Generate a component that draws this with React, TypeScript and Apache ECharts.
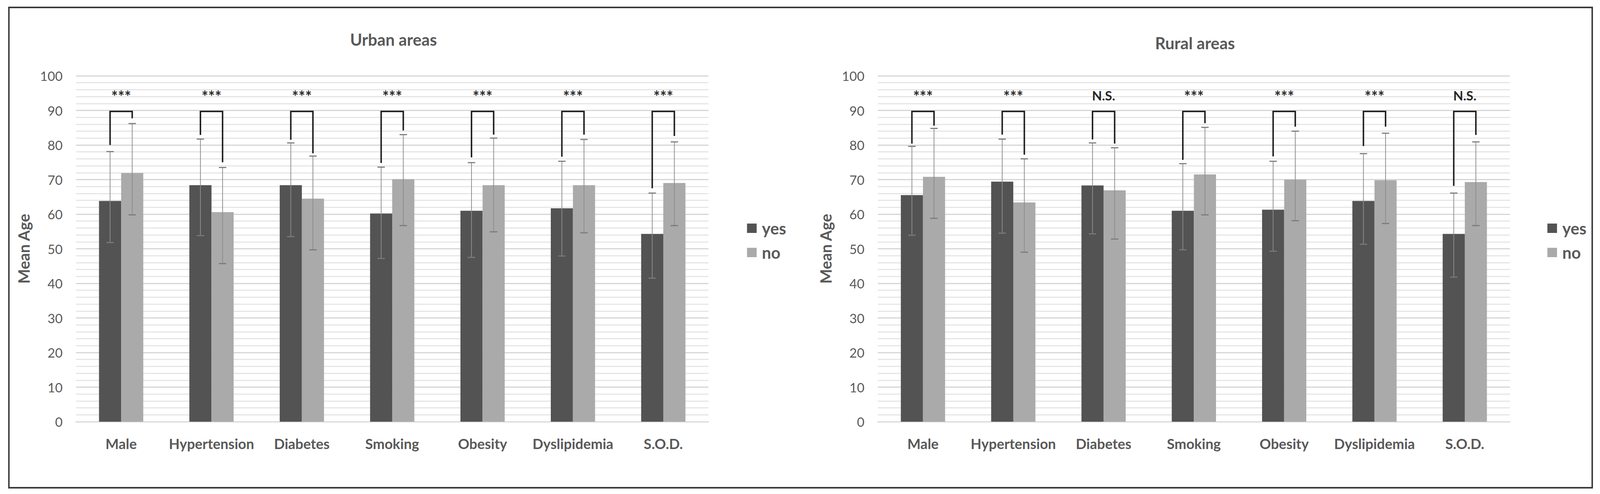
import React, { useEffect, useRef } from "react";
import * as echarts from "echarts";

const categories = ["Male", "Hypertension", "Diabetes", "Smoking", "Obesity", "Dyslipidemia", "S.O.D."];
const seriesNames = ["yes", "no"];

// Urban areas
const urbanYes = [63.8, 68.4, 68.4, 60.2, 61.0, 61.7, 54.3];
const urbanNo = [71.9, 60.6, 64.5, 70.1, 68.4, 68.4, 69.0];
const urbanYesLow = [51.8, 53.8, 53.5, 47.2, 47.5, 47.9, 41.5];
const urbanYesHigh = [78.1, 81.7, 80.6, 73.6, 74.9, 75.3, 66.1];
const urbanNoLow = [59.8, 45.7, 49.7, 56.7, 54.9, 54.6, 56.7];
const urbanNoHigh = [86.2, 73.5, 76.8, 83.0, 82.0, 81.6, 80.9];
const urbanBracketLeft = [80.0, 82.9, 81.5, 74.8, 76.4, 76.6, 67.5];
const urbanBracketRight = [87.7, 75.0, 77.6, 84.2, 83.0, 83.0, 82.6];
const urbanSig = ["***", "***", "***", "***", "***", "***", "***"];

// Rural areas
const ruralYes = [65.5, 69.4, 68.3, 61.0, 61.3, 63.8, 54.3];
const ruralNo = [70.8, 63.4, 66.9, 71.5, 70.0, 69.8, 69.3];
const ruralYesLow = [53.9, 54.5, 54.3, 49.7, 49.3, 51.3, 41.8];
const ruralYesHigh = [79.6, 81.7, 80.6, 74.6, 75.3, 77.5, 66.1];
const ruralNoLow = [58.8, 49.0, 52.8, 59.8, 58.1, 57.3, 56.7];
const ruralNoHigh = [84.8, 76.0, 79.2, 85.1, 84.0, 83.4, 80.9];
const ruralBracketLeft = [80.4, 83.0, 81.6, 75.7, 76.7, 79.7, 68.2];
const ruralBracketRight = [85.6, 77.2, 80.4, 86.3, 85.3, 85.3, 82.9];
const ruralSig = ["***", "***", "N.S.", "***", "***", "***", "N.S."];

const bracketTop = 89.7;
const sigLabelY = 94.3;
const yMin = 0;
const yMax = 100;
const yInterval = 10;

const FONT = "Lato";
const TEXT_GRAY = "#595959";
const YES_COLOR = "#535353";
const NO_COLOR = "#aaaaaa";
const GAP_RATIO = 0.51;

// design canvas size (layout below is expressed in these units and scaled to the real container)
const DW = 4318;
const DH = 1264;

function buildOption(W: number, H: number) {
  const kx = W / DW;
  const ky = H / DH;
  const k = Math.min(kx, ky);
  const X = (v: number) => v * kx;
  const Y = (v: number) => v * ky;
  const F = (v: number) => v * k;

  function errorBarRender(sign: number) {
    return (params: any, api: any) => {
      const cat = api.value(0);
      const low = api.value(1);
      const high = api.value(2);
      const band = api.size([1, 0])[0];
      const off = (sign * band * (1 - GAP_RATIO)) / 4;
      const pLow = api.coord([cat, low]);
      const pHigh = api.coord([cat, high]);
      const x = pLow[0] + off;
      const cap = X(10);
      return {
        type: "group",
        children: [
          { type: "line", shape: { x1: x, y1: pHigh[1], x2: x, y2: pLow[1] }, style: { stroke: "#8c8c8c", lineWidth: F(2) } },
          { type: "line", shape: { x1: x - cap, y1: pHigh[1], x2: x + cap, y2: pHigh[1] }, style: { stroke: "#7a7a7a", lineWidth: F(3) } },
          { type: "line", shape: { x1: x - cap, y1: pLow[1], x2: x + cap, y2: pLow[1] }, style: { stroke: "#7a7a7a", lineWidth: F(3) } },
        ],
      };
    };
  }

  function bracketRender(labels: string[]) {
    return (params: any, api: any) => {
      const cat = api.value(0);
      const left = api.value(1);
      const right = api.value(2);
      const band = api.size([1, 0])[0];
      const off = (band * (1 - GAP_RATIO)) / 4;
      const pc = api.coord([cat, bracketTop]);
      const pl = api.coord([cat, left]);
      const pr = api.coord([cat, right]);
      const pt = api.coord([cat, sigLabelY]);
      const xl = pc[0] - off;
      const xr = pc[0] + off;
      const label = labels[params.dataIndex];
      const isStars = label.indexOf("*") >= 0;
      return {
        type: "group",
        children: [
          {
            type: "polyline",
            shape: { points: [[xl, pl[1]], [xl, pc[1]], [xr, pc[1]], [xr, pr[1]]] },
            style: { stroke: "#1e1e1e", lineWidth: F(4), fill: null },
          },
          {
            type: "text",
            x: pc[0],
            y: pt[1] + (isStars ? Y(2) : 0),
            style: {
              text: label,
              align: "center",
              verticalAlign: "middle",
              textAlign: "center",
              textVerticalAlign: "middle",
              fontSize: F(isStars ? 42 : 35),
              fontWeight: "bold",
              fontFamily: FONT,
              fill: "#262626",
            },
          },
        ],
      };
    };
  }

  const makeXAxis = (gridIndex: number) => ({
    type: "category",
    gridIndex,
    data: categories,
    axisTick: { show: false },
    axisLine: { show: true, lineStyle: { color: "#d9d9d9", width: F(3) } },
    axisLabel: { interval: 0, margin: Y(38), fontSize: F(38), fontWeight: "bold", color: TEXT_GRAY, fontFamily: FONT },
  });

  const makeYAxis = (gridIndex: number) => ({
    type: "value",
    gridIndex,
    min: yMin,
    max: yMax,
    interval: yInterval,
    name: "Mean Age",
    nameLocation: "middle",
    nameGap: X(120),
    nameTextStyle: { fontSize: F(42), fontWeight: "bold", color: TEXT_GRAY, fontFamily: FONT },
    axisLine: { show: false },
    axisTick: { show: false },
    axisLabel: { margin: X(36), fontSize: F(35), color: TEXT_GRAY, fontFamily: FONT },
    splitLine: { show: true, lineStyle: { color: "#d6d6d6", width: F(3) } },
    minorTick: { show: false, splitNumber: 5 },
    minorSplitLine: { show: true, lineStyle: { color: "#e6e6e6", width: F(3) } },
  });

  const barSeries = (name: string, data: number[], axisIndex: number, color: string) => ({
    name,
    type: "bar",
    xAxisIndex: axisIndex,
    yAxisIndex: axisIndex,
    data,
    barGap: "0%",
    barCategoryGap: GAP_RATIO * 100 + "%",
    itemStyle: { color },
    z: 2,
  });

  const errSeries = (low: number[], high: number[], axisIndex: number, sign: number) => ({
    type: "custom",
    xAxisIndex: axisIndex,
    yAxisIndex: axisIndex,
    data: categories.map((_, i) => [i, low[i], high[i]]),
    encode: { x: 0, y: [1, 2] },
    renderItem: errorBarRender(sign),
    z: 5,
    silent: true,
  });

  const bracketSeries = (left: number[], right: number[], labels: string[], axisIndex: number) => ({
    type: "custom",
    xAxisIndex: axisIndex,
    yAxisIndex: axisIndex,
    data: categories.map((_, i) => [i, left[i], right[i]]),
    encode: { x: 0, y: [1, 2] },
    renderItem: bracketRender(labels),
    clip: false,
    z: 6,
    silent: true,
  });

  const legendAt = (left: number) => ({
    orient: "vertical",
    left: X(left),
    top: Y(563),
    padding: 0,
    itemGap: Y(20),
    itemWidth: X(26),
    itemHeight: Y(24),
    icon: "rect",
    data: seriesNames,
    textStyle: { fontSize: F(44), fontWeight: "bold", color: TEXT_GRAY, fontFamily: FONT, padding: [0, 0, 0, X(9)] },
  });

  const titleStyle = { fontSize: F(44), fontWeight: "bold", color: TEXT_GRAY, fontFamily: FONT };

  return {
    animation: false,
    backgroundColor: "#ffffff",
    textStyle: { fontFamily: FONT },
    title: [
      { text: "Urban areas", left: X(1062), top: Y(80), textAlign: "center", padding: 0, textStyle: titleStyle },
      { text: "Rural areas", left: X(3225), top: Y(89), textAlign: "center", padding: 0, textStyle: titleStyle },
    ],
    legend: [legendAt(2016), legendAt(4176)],
    grid: [
      { left: X(205), right: X(DW - 1912), top: Y(194), bottom: Y(DH - 1079) },
      { left: X(2369), right: X(DW - 4075), top: Y(194), bottom: Y(DH - 1079) },
    ],
    xAxis: [makeXAxis(0), makeXAxis(1)],
    yAxis: [makeYAxis(0), makeYAxis(1)],
    series: [
      barSeries(seriesNames[0], urbanYes, 0, YES_COLOR),
      barSeries(seriesNames[1], urbanNo, 0, NO_COLOR),
      barSeries(seriesNames[0], ruralYes, 1, YES_COLOR),
      barSeries(seriesNames[1], ruralNo, 1, NO_COLOR),
      errSeries(urbanYesLow, urbanYesHigh, 0, -1),
      errSeries(urbanNoLow, urbanNoHigh, 0, 1),
      errSeries(ruralYesLow, ruralYesHigh, 1, -1),
      errSeries(ruralNoLow, ruralNoHigh, 1, 1),
      bracketSeries(urbanBracketLeft, urbanBracketRight, urbanSig, 0),
      bracketSeries(ruralBracketLeft, ruralBracketRight, ruralSig, 1),
    ],
    graphic: [
      {
        type: "rect",
        shape: { x: X(24), y: Y(19), width: X(4297 - 24), height: Y(1248 - 19) },
        style: { fill: null, stroke: "#3a3a3a", lineWidth: F(4) },
        silent: true,
      },
    ],
  };
}

export default function App() {
  const ref = useRef<HTMLDivElement>(null);
  useEffect(() => {
    const el = ref.current;
    if (!el) return;
    const chart = echarts.init(el, null, { renderer: "svg" });
    const W = el.clientWidth || DW;
    const H = el.clientHeight || DH;
    chart.setOption(buildOption(W, H) as any);
    return () => chart.dispose();
  }, []);
  return (
    <div
      ref={ref}
      style={{ position: "fixed", left: 0, top: 0, right: 0, bottom: 0, background: "#fff", overflow: "hidden" }}
    />
  );
}
